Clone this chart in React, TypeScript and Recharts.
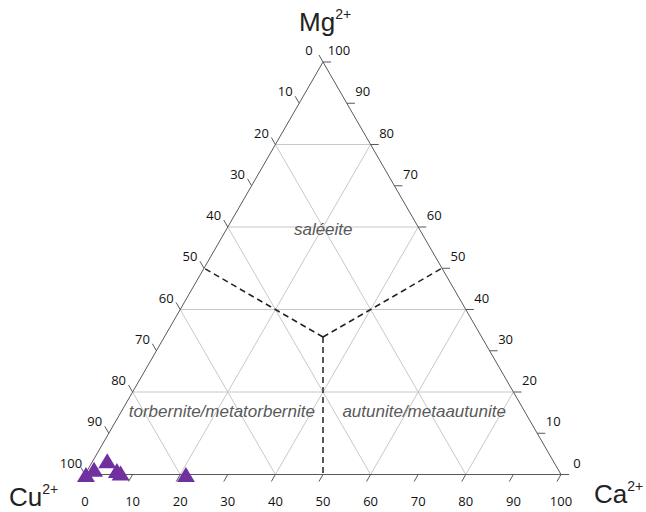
import { ReferenceLine, Scatter, ScatterChart, XAxis, YAxis } from "recharts";

// ternary values in percent (Cu = 100 - Ca - Mg)
const TICKS = [0, 10, 20, 30, 40, 50, 60, 70, 80, 90, 100];
const GRID = [20, 40, 60, 80];

const sampleCa = [0.2, 1.25, 3.0, 6.2, 7.3, 21.2];
const sampleMg = [0, 1.3, 3.35, 1.0, 0.36, 0];

const regionNames = ["saléeite", "torbernite/metatorbernite", "autunite/metaautunite"];
const regionCa = [20.3, 21.1, 63.6];
const regionMg = [59.5, 15.3, 15.3];

const vertexNames = ["Mg", "Cu", "Ca"];
const vertexCa = [0, 0, 100];
const vertexMg = [100, 0, 0];

// Ca + Mg/2 horizontally, Mg vertically
const toXY = (ca: number, mg: number) => ({ x: ca + mg / 2, y: mg });

const TICK_LEN = 1.7;
const EDGE = "#595959";
const GRID_COLOR = "#c8c8c8";

const samples = sampleCa.map((ca, i) => toXY(ca, sampleMg[i]));

type Label = { x: number; y: number; text: string; dx: number; dy: number; kind: string };

const labels: Label[] = [
  // left side: Cu
  ...TICKS.map((cu) => ({ ...toXY(0, 100 - cu), text: String(cu), dx: -14, dy: -12, kind: "tick" })),
  // right side: Mg
  ...TICKS.map((mg) => ({ ...toXY(100 - mg, mg), text: String(mg), dx: 16, dy: -12, kind: "tick" })),
  // bottom: Ca
  ...TICKS.map((ca) => ({ ...toXY(ca, 0), text: String(ca), dx: 0, dy: 26, kind: "tick" })),
  ...regionNames.map((name, i) => ({
    ...toXY(regionCa[i], regionMg[i]),
    text: name,
    dx: 0,
    dy: 0,
    kind: "region",
  })),
  ...vertexNames.map((name, i) => ({
    ...toXY(vertexCa[i], vertexMg[i]),
    text: name,
    dx: [-24, -76, 33][i],
    dy: [-40, 22.5, 19.5][i],
    kind: "vertex",
  })),
];

const renderLabel = (props: any) => {
  const { cx, cy, payload } = props;
  const p = payload as Label;
  const x = cx + p.dx;
  const y = cy + p.dy;
  if (p.kind === "vertex") {
    return (
      <text
        x={x}
        y={y}
        textAnchor="start"
        dominantBaseline="central"
        fontFamily="Liberation Sans, Arial, sans-serif"
        fontSize={26}
        fill="#222"
      >
        {p.text}
        <tspan fontSize={14} dy={-8}>
          2+
        </tspan>
      </text>
    );
  }
  if (p.kind === "region") {
    return (
      <text
        x={x}
        y={y}
        textAnchor="middle"
        dominantBaseline="central"
        fontFamily="Liberation Sans, Arial, sans-serif"
        fontStyle="italic"
        fontSize={17}
        fill="#595959"
      >
        {p.text}
      </text>
    );
  }
  return (
    <text
      x={x}
      y={y}
      textAnchor="middle"
      dominantBaseline="central"
      fontFamily="'Open Sans', sans-serif"
      fontSize={13}
      fill="#111"
    >
      {p.text}
    </text>
  );
};

const renderMarker = (props: any) => {
  const { cx, cy } = props;
  return (
    <polygon
      points={`${cx},${cy - 7.5} ${cx + 9},${cy + 7.5} ${cx - 9},${cy + 7.5}`}
      fill="#7030A0"
    />
  );
};

const seg = (a: { x: number; y: number }, b: { x: number; y: number }) => [a, b];

const gridSegments = GRID.flatMap((k) => [
  seg(toXY(0, k), toXY(100 - k, k)), // constant Mg
  seg(toXY(k, 0), toXY(k, 100 - k)), // constant Ca
  seg(toXY(100 - k, 0), toXY(0, 100 - k)), // constant Cu
]);

const centre = toXY(100 / 3, 100 / 3);
const dashedSegments = [
  seg(centre, toXY(0, 50)),
  seg(centre, toXY(50, 50)),
  seg(centre, toXY(50, 0)),
];

const edgeSegments = [
  seg(toXY(0, 0), toXY(100, 0)),
  seg(toXY(0, 0), toXY(0, 100)),
  seg(toXY(100, 0), toXY(0, 100)),
];

const tickSegments = TICKS.flatMap((v) => [
  // Cu ticks on the left edge
  seg(toXY(0, 100 - v), toXY(-TICK_LEN, 100 - v + TICK_LEN)),
  // Mg ticks on the right edge
  seg(toXY(100 - v, v), toXY(100 - v + TICK_LEN, v)),
  // Ca ticks on the bottom edge
  seg(toXY(v, 0), toXY(v, -TICK_LEN)),
]);

export default function App() {
  return (
    <div style={{ position: "absolute", left: 0, top: 0 }}>
      <ScatterChart width={646} height={512} margin={{ top: 62, right: 85, bottom: 37.5, left: 85 }}>
        <XAxis type="number" dataKey="x" domain={[0, 100]} hide />
        <YAxis type="number" dataKey="y" domain={[0, 100]} hide />
        {gridSegments.map((s, i) => (
          <ReferenceLine key={`g${i}`} segment={s} stroke={GRID_COLOR} strokeWidth={1} ifOverflow="visible" />
        ))}
        {dashedSegments.map((s, i) => (
          <ReferenceLine
            key={`d${i}`}
            segment={s}
            stroke="#222"
            strokeWidth={1.5}
            strokeDasharray="6 4"
            ifOverflow="visible"
          />
        ))}
        {edgeSegments.map((s, i) => (
          <ReferenceLine key={`e${i}`} segment={s} stroke={EDGE} strokeWidth={1} ifOverflow="visible" />
        ))}
        {tickSegments.map((s, i) => (
          <ReferenceLine key={`t${i}`} segment={s} stroke={EDGE} strokeWidth={1} ifOverflow="visible" />
        ))}
        <Scatter data={labels} shape={renderLabel} isAnimationActive={false} />
        <Scatter data={samples} shape={renderMarker} isAnimationActive={false} />
      </ScatterChart>
    </div>
  );
}
